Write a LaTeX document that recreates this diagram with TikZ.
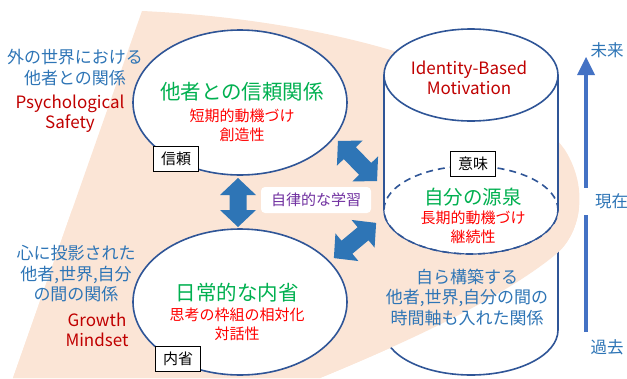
\documentclass[tikz,border=0pt]{standalone}
\usepackage{fontspec}
\setmainfont{Noto Sans CJK JP}
\usetikzlibrary{shapes.geometric}
\definecolor{peach}{HTML}{FBE5D6}
\definecolor{edgeblue}{HTML}{2F5597}
\definecolor{arrowblue}{HTML}{2E75B6}
\definecolor{tblue}{HTML}{2E75B6}
\definecolor{dred}{HTML}{C00000}
\definecolor{bred}{HTML}{FF0000}
\definecolor{tgreen}{HTML}{00B050}
\definecolor{tpurple}{HTML}{7030A0}
\definecolor{tline}{HTML}{4472C4}
\begin{document}
\begin{tikzpicture}[x=1pt,y=-1pt,
  lbl/.style={inner sep=0pt, align=center},
  side/.style={lbl, text=tblue, font=\fontsize{17}{20.5}\selectfont},
  latin/.style={lbl, text=dred, font=\fontsize{17}{20}\selectfont},
  title/.style={lbl, text=tgreen, font=\fontsize{20.5}{24}\selectfont},
  sub/.style={lbl, text=bred, font=\fontsize{15}{19}\selectfont},
  tagbox/.style={draw=black, line width=0.9pt, fill=white, minimum width=45pt, minimum height=25pt, inner sep=0pt, font=\fontsize{15}{18}\selectfont},
  bubble/.style={ellipse, draw=edgeblue, line width=1.6pt, fill=white, inner sep=0pt},
  edge/.style={draw=edgeblue, line width=1.6pt},
  bigarrow/.style={fill=arrowblue},
  timetxt/.style={lbl, text=tblue, font=\fontsize{16.5}{20}\selectfont}
]
\useasboundingbox (0,0) rectangle (627,378);
% peach background
\fill[peach] (13,378) -- (142,11) .. controls (300,18) and (500,60) .. (565,150)
  .. controls (590,190) and (580,235) .. (555,255)
  .. controls (500,300) and (400,345) .. (320,378) -- cycle;
% cylinder body
\fill[white] (384,75) -- (384,330) arc[start angle=180,end angle=360,x radius=87pt,y radius=45pt] -- (558,75) -- cycle;
\draw[edge] (384,75) -- (384,330) arc[start angle=180,end angle=360,x radius=87pt,y radius=45pt] -- (558,75);
% peach overlay in front of lower cylinder body
\begin{scope}
\clip (0,210) rectangle (627,378);
\fill[peach] (13,378) -- (142,11) .. controls (300,18) and (500,60) .. (565,150)
  .. controls (590,190) and (580,235) .. (555,255)
  .. controls (500,300) and (400,345) .. (320,378) -- cycle;
\end{scope}
% inner dashed ellipse
\node[ellipse, fill=white, minimum width=174pt, minimum height=88pt, inner sep=0pt] (source) at (471,210) {};
\draw[edge, dash pattern=on 7pt off 5pt] (source.center) ellipse[x radius=87pt, y radius=44pt];
\draw[edge, line width=1.2pt] (source.west) arc[start angle=180,end angle=360,x radius=87pt,y radius=44pt];
% cylinder top
\node[bubble, minimum width=174pt, minimum height=92pt] (top) at (471,75) {};
% left ellipses
\node[bubble, minimum width=214pt, minimum height=145pt] (trust) at (240,102.5) {};
\node[bubble, minimum width=214pt, minimum height=146pt] (reflect) at (240,302) {};
% block arrows
\begin{scope}[shift={(238,202.5)}, rotate=90]
\fill[bigarrow] (-24.5,0) -- (-7.5,18) -- (-7.5,8.5) -- (7.5,8.5) -- (7.5,18) -- (24.5,0) -- (7.5,-18) -- (7.5,-8.5) -- (-7.5,-8.5) -- (-7.5,-18) -- cycle;
\end{scope}
\begin{scope}[shift={(357.5,161)}, rotate=-45.7]
\fill[bigarrow] (-28,0) -- (-11,18) -- (-11,8.5) -- (11,8.5) -- (11,18) -- (28,0) -- (11,-18) -- (11,-8.5) -- (-11,-8.5) -- (-11,-18) -- cycle;
\end{scope}
\begin{scope}[shift={(355,240.5)}, rotate=39.8]
\fill[bigarrow] (-27.5,0) -- (-10.5,18) -- (-10.5,8.5) -- (10.5,8.5) -- (10.5,18) -- (27.5,0) -- (10.5,-18) -- (10.5,-8.5) -- (-10.5,-8.5) -- (-10.5,-18) -- cycle;
\end{scope}
\node[fill=white, rounded corners=4pt, minimum width=110pt, minimum height=26pt, inner sep=0pt, text=tpurple, font=\fontsize{15}{18}\selectfont] (learn) at (316,200) {自律的な学習};
% texts in ellipses
\node[title] (trustT) at (242,92) {他者との信頼関係};
\node[sub] (trustS) at (242,125.5) {短期的動機づけ\\創造性};
\node[tagbox] (trustTag) at (176,159) {信頼};
\node[title] (reflT) at (237,293) {日常的な内省};
\node[sub] (reflS) at (237,324) {思考の枠組の相対化\\対話性};
\node[tagbox] (reflTag) at (178,359) {内省};
\node[latin] (ibm) at (469,78) {Identity-Based\\Motivation};
\node[tagbox] (meaning) at (473,164) {意味};
\node[title, font=\fontsize{19.5}{23}\selectfont] (srcT) at (473,197) {自分の源泉};
\node[sub] (srcS) at (473,227.5) {長期的動機づけ\\継続性};
\node[side] (selfbuild) at (467,297.5) {自ら構築する\\他者,世界,自分の間の\\時間軸も入れた関係};
% side texts
\node[side] (outer) at (75,67.5) {外の世界における\\他者との関係};
\node[latin] (psy) at (70,114) {Psychological\\Safety};
\node[side] (inner) at (76,274) {心に投影された\\他者,世界,自分\\の間の関係};
\node[latin] (growth) at (97,330) {Growth\\Mindset};
% timeline
\coordinate (tlBottom) at (586,332);
\coordinate (tlHead) at (586,75);
\draw[tline, line width=4pt] (tlBottom) -- (tlHead);
\fill[tline] (577,75) -- (586,57) -- (595,75) -- cycle;
\node[timetxt] (future) at (607,50) {未来};
\fill[white] (580,188) rectangle (627,215);
\node[timetxt, anchor=west] (now) at (595,201) {現在};
\node[timetxt] (past) at (607,347) {過去};
\end{tikzpicture}
\end{document}
